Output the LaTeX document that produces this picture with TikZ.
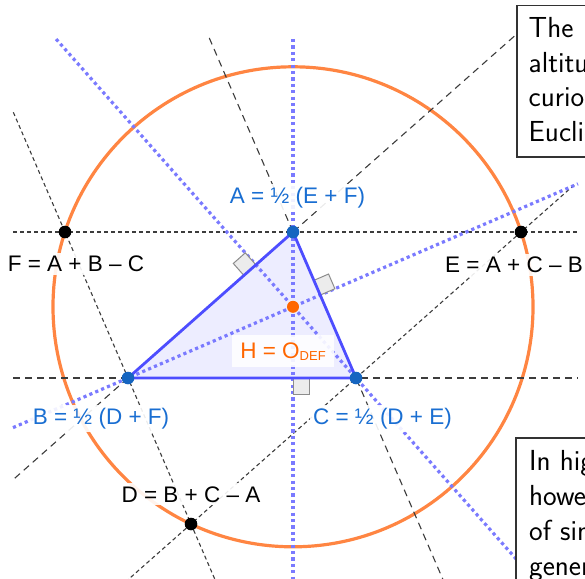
\documentclass[tikz,border=0pt]{standalone}
\usepackage{fontspec}
\newfontfamily\lblfont{Liberation Sans}
\usetikzlibrary{calc}
\definecolor{ptblue}{RGB}{21,101,192}
\definecolor{lblblue}{RGB}{25,110,210}
\definecolor{edgeblue}{RGB}{77,77,255}
\definecolor{dotblue}{RGB}{122,122,255}
\definecolor{circorange}{RGB}{255,133,66}
\definecolor{horange}{RGB}{255,102,0}
\definecolor{dashgray}{RGB}{60,60,60}
\definecolor{markgray}{RGB}{140,140,140}
\definecolor{markfill}{RGB}{236,236,236}
\definecolor{boxgray}{RGB}{50,50,50}
\tikzset{
  shortdash/.style={dashgray, line width=1.1pt, dash pattern=on 4pt off 3pt},
  longdash/.style={dashgray, line width=1.1pt, dash pattern=on 7pt off 5pt},
  altline/.style={dotblue, line width=3.2pt, dash pattern=on 3.2pt off 3.2pt},
  rightmark/.style={draw=markgray, fill=markfill, line width=1pt},
  tri/.style={edgeblue, line width=2.8pt, line join=round},
  lbl/.style={font=\lblfont\fontsize{22.5}{27}\selectfont, fill=white, fill opacity=0.9, text opacity=1, inner sep=3pt, anchor=base},
  vtx/.style={circle, fill=ptblue, inner sep=0pt, minimum size=12.6pt},
  blk/.style={circle, fill=black, inner sep=0pt, minimum size=12.6pt},
  orth/.style={circle, fill=horange, inner sep=0pt, minimum size=12pt},
  notebox/.style={draw=boxgray, line width=1.2pt, fill=white},
  notetxt/.style={font=\sffamily\fontsize{29}{34}\selectfont, anchor=base west, inner sep=0pt, text=black}
}
\begin{document}
\begin{tikzpicture}[x=1pt,y=-1pt]
\useasboundingbox (0,0) rectangle (585,578);
\coordinate (A) at (293,232);
\coordinate (B) at (128,378);
\coordinate (C) at (356,378);
\coordinate (D) at ($(B)+(C)-(A)$);
\coordinate (E) at ($(A)+(C)-(B)$);
\coordinate (F) at ($(A)+(B)-(C)$);
\coordinate (H) at (293,306.8);

% triangle fill
\fill[edgeblue, fill opacity=0.1] (A) -- (B) -- (C) -- cycle;

% circumcircle of DEF
\draw[circorange, line width=3.2pt] (H) circle[radius=240pt];

% sides of DEF
\draw[shortdash] ($(F)!-0.114!(E)$) -- ($(F)!1.125!(E)$);
\draw[shortdash] ($(F)!-0.41!(D)$) -- ($(F)!1.2!(D)$);
\draw[shortdash] ($(E)!-0.161!(D)$) -- ($(E)!1.2!(D)$);
% extended sides of ABC
\draw[longdash] ($(B)!-0.504!(C)$) -- ($(B)!1.974!(C)$);
\draw[longdash] ($(A)!-1.45!(B)$) -- ($(A)!1.697!(B)$);
\draw[longdash] ($(A)!-1.329!(C)$) -- ($(A)!2.4!(C)$);

% altitudes
\draw[altline] ($(A)+(0,-193)$) -- ($(A)+(0,350)$);
\draw[altline] ($(B)!-0.697!(H)$) -- ($(B)!2.727!(H)$);
\draw[altline] ($(C)!4.76!(H)$) -- ($(C)!-2.6!(H)$);

% right angle marks
\coordinate (fa) at ($(B)!(A)!(C)$);
\coordinate (fb) at ($(A)!(B)!(C)$);
\coordinate (fc) at ($(A)!(C)!(B)$);
\coordinate (a1) at ($(fa)!16pt!(C)$);
\coordinate (a2) at ($(fa)!-16pt!(A)$);
\coordinate (b1) at ($(fb)!16pt!(A)$);
\coordinate (b2) at ($(fb)!-16pt!(B)$);
\coordinate (c1) at ($(fc)!16pt!(B)$);
\coordinate (c2) at ($(fc)!-16pt!(C)$);
\draw[rightmark] (fa) -- (a1) -- ($(a1)+(a2)-(fa)$) -- (a2) -- cycle;
\draw[rightmark] (fb) -- (b1) -- ($(b1)+(b2)-(fb)$) -- (b2) -- cycle;
\draw[rightmark] (fc) -- (c1) -- ($(c1)+(c2)-(fc)$) -- (c2) -- cycle;

% triangle edges
\draw[tri] (A) -- (B) -- (C) -- cycle;

% labels
\node[lbl, text=lblblue] (la) at (297.5,203) {A = ½ (E + F)};
\node[lbl] (lf) at (76,271.5) {F = A + B – C};
\node[lbl] (le) at (514,272.5) {E = A + C – B};
\node[lbl, text=lblblue] (lb) at (101,424) {B = ½ (D + F)};
\node[lbl, text=lblblue] (lc) at (382.5,424) {C = ½ (D + E)};
\node[lbl] (ld) at (191,502) {D = B + C – A};
\node[lbl, text=horange, inner xsep=8pt, inner ysep=7pt, text height=16pt, text depth=2pt] (lh) at (283,358) {H = O{\fontsize{13}{13}\selectfont\raisebox{-2.5pt}{DEF}}};

% points
\node[vtx] (pA) at (A) {};
\node[vtx] (pB) at (B) {};
\node[vtx] (pC) at (C) {};
\node[blk] (pD) at (D) {};
\node[blk] (pE) at (E) {};
\node[blk] (pF) at (F) {};
\node[orth] (pH) at (H) {};

% note boxes
\path[notebox] (517,5.5) rectangle (600,157);
\node[notetxt] (n1) at (528.5,37.5) {The};
\node[notetxt] (n2) at (528.5,72) {altitudes of a triangle};
\node[notetxt] (n3) at (528.5,106.5) {curiously are absent from};
\node[notetxt] (n4) at (528.5,141) {Euclid's Elements.};

\path[notebox] (516,438) rectangle (600,600);
\node[notetxt] (m1) at (529,470) {In higher dimensions,};
\node[notetxt] (m2) at (529,505) {however, the altitudes};
\node[notetxt] (m3) at (529,540) {of simplices do not in};
\node[notetxt] (m4) at (529,575) {general meet.};
\end{tikzpicture}
\end{document}
